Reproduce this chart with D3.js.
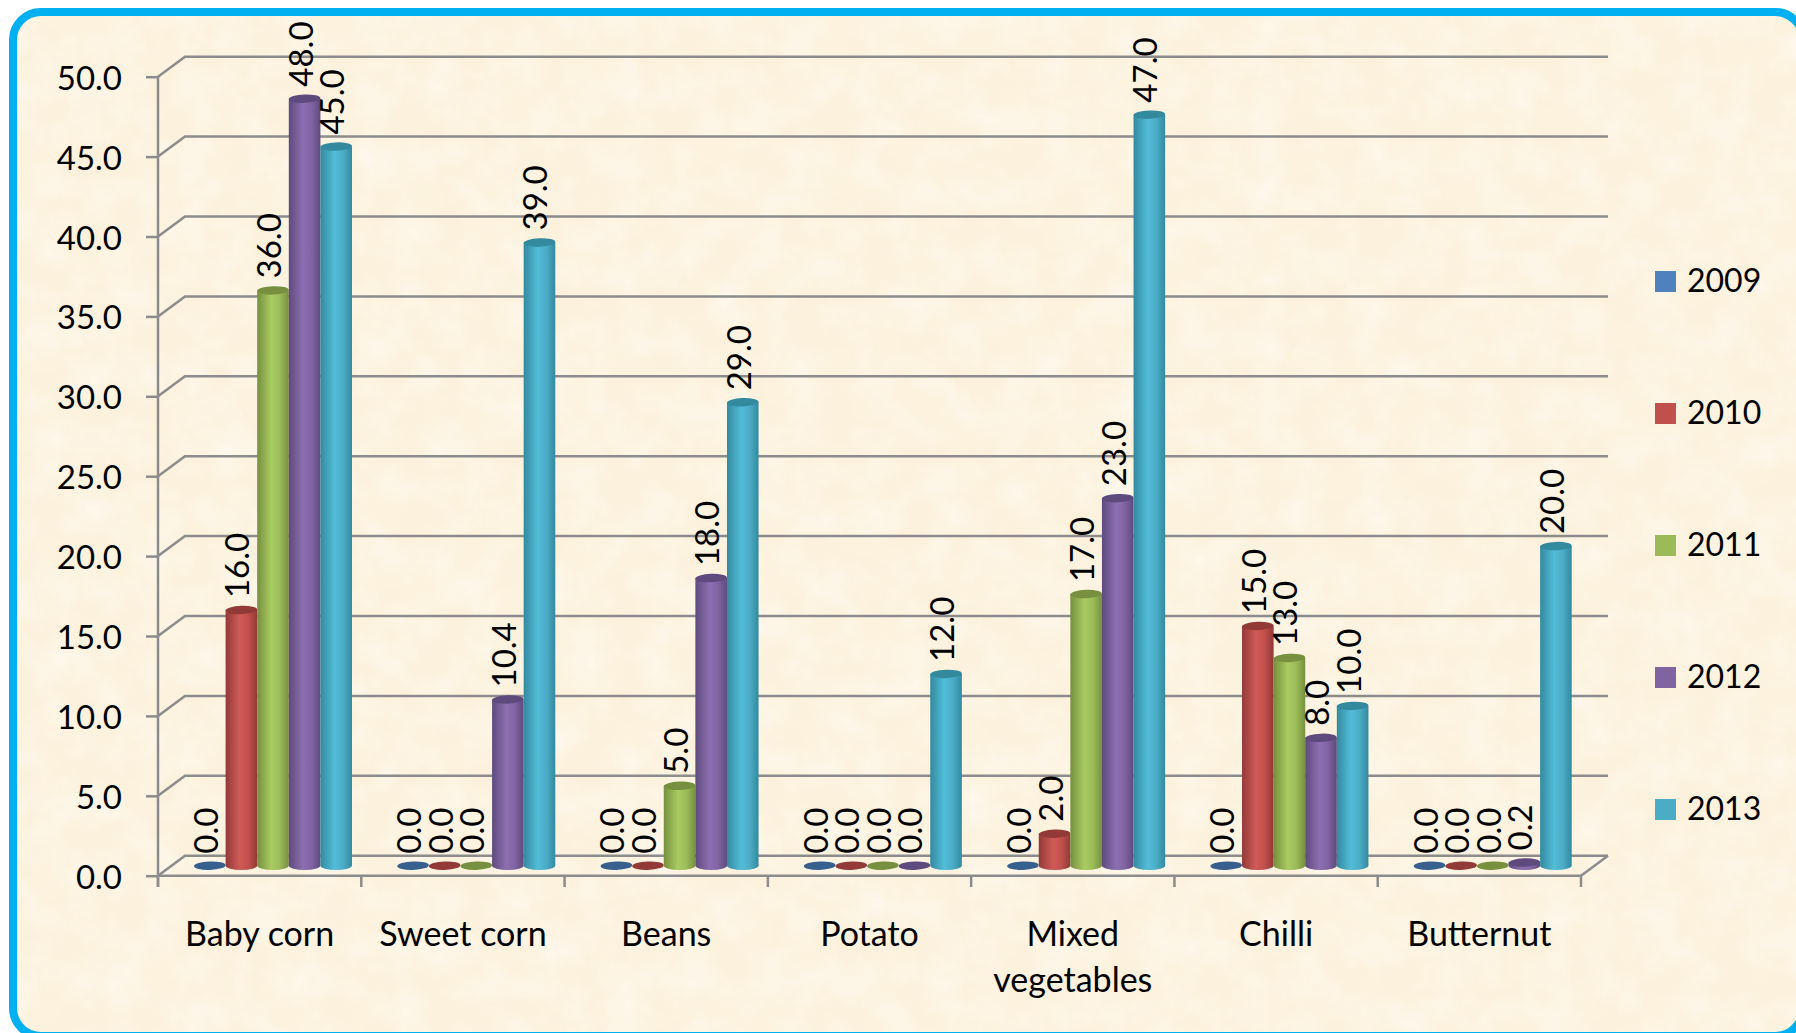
<!DOCTYPE html>
<html>
<head>
<meta charset="utf-8">
<script src="https://d3js.org/d3.v7.min.js"></script>
<style>
html, body { margin: 0; padding: 0; background: #fff; overflow: hidden; }
text { font-family: Lato, "Open Sans", sans-serif; fill: #000; }
</style>
</head>
<body>
<div id="chart"></div>
<script>
// Chart data
var categories = ['Baby corn', 'Sweet corn', 'Beans', 'Potato', 'Mixed vegetables', 'Chilli', 'Butternut'];
var years = ['2009', '2010', '2011', '2012', '2013'];
var values2009 = [0, 0, 0, 0, 0, 0, 0];
var values2010 = [16, 0, 0, 0, 2, 15, 0];
var values2011 = [36, 0, 5, 0, 17, 13, 0];
var values2012 = [48, 10.4, 18, 0, 23, 8, 0.2];
var values2013 = [45, 39, 29, 12, 47, 10, 20];
var yTicks = [0, 5, 10, 15, 20, 25, 30, 35, 40, 45, 50];
var seriesValues = [values2009, values2010, values2011, values2012, values2013];

var colors = ['#4F81BD', '#C0504D', '#9BBB59', '#8064A2', '#4BACC6'];
var darkColors = ['#37608F', '#923A38', '#76903F', '#5F4A7D', '#338A9F'];
var lightColors = ['#5B90CF', '#D05B58', '#A9CB62', '#8C6FB1', '#53BCD8'];

var width = 1796, height = 1033;
var svg = d3.select('#chart').append('svg')
    .attr('width', width)
    .attr('height', height)
    .style('display', 'block');
var defs = svg.append('defs');

// Parchment texture, one darker layer and one lighter layer
function paperFilter(id, seed, freq, matrix) {
    var filter = defs.append('filter').attr('id', id)
        .attr('x', 0).attr('y', 0).attr('width', '100%').attr('height', '100%');
    filter.append('feTurbulence')
        .attr('type', 'fractalNoise')
        .attr('baseFrequency', freq)
        .attr('numOctaves', 3)
        .attr('seed', seed);
    filter.append('feColorMatrix')
        .attr('type', 'matrix')
        .attr('values', matrix);
}
paperFilter('paperDark', 7, 0.02, '0 0 0 0 0.98  0 0 0 0 0.91  0 0 0 0 0.76  1.1 0 0 0 -0.42');
paperFilter('paperLight', 23, 0.028, '0 0 0 0 1  0 0 0 0 0.97  0 0 0 0 0.92  1.2 0 0 0 -0.48');

// Cylinder gradients
years.forEach(function(year, i) {
    var grad = defs.append('linearGradient').attr('id', 'cyl' + year);
    grad.append('stop').attr('offset', '0%').attr('stop-color', darkColors[i]);
    grad.append('stop').attr('offset', '45%').attr('stop-color', lightColors[i]);
    grad.append('stop').attr('offset', '72%').attr('stop-color', colors[i]);
    grad.append('stop').attr('offset', '100%').attr('stop-color', darkColors[i]);
});

// Rounded frame
defs.append('clipPath').attr('id', 'frameClip').append('rect')
    .attr('x', 13).attr('y', 12).attr('width', 1790).attr('height', 1024).attr('rx', 28);
svg.append('rect')
    .attr('x', 13).attr('y', 12).attr('width', 1790).attr('height', 1024).attr('rx', 28)
    .attr('fill', '#FCF1DC');
var paper = svg.append('g').attr('clip-path', 'url(#frameClip)');
paper.append('rect')
    .attr('x', 13).attr('y', 12).attr('width', 1790).attr('height', 1024)
    .attr('filter', 'url(#paperDark)');
paper.append('rect')
    .attr('x', 13).attr('y', 12).attr('width', 1790).attr('height', 1024)
    .attr('filter', 'url(#paperLight)');
svg.append('rect')
    .attr('x', 13).attr('y', 12).attr('width', 1790).attr('height', 1024).attr('rx', 28)
    .attr('fill', 'none')
    .attr('stroke', '#00B0F0')
    .attr('stroke-width', 8);

// Scales
var y = d3.scaleLinear().domain([0, 50]).range([875.7, 76.7]);
var x = d3.scaleBand().domain(categories).range([158, 1581]);
var xBar = d3.scaleBand().domain(years).range([36, 194]);

var depthX = 27, depthY = 20;
var gridColor = '#8C8C8C';
var barLift = 10;

// Back wall grid lines
var grid = svg.append('g');
grid.selectAll('.wall')
    .data(yTicks)
    .join('path')
    .attr('fill', 'none')
    .attr('stroke', gridColor)
    .attr('stroke-width', 2.5)
    .attr('d', function(d) {
        var p = d3.path();
        p.moveTo(x.range()[0], y(d));
        p.lineTo(x.range()[0] + depthX, y(d) - depthY);
        p.lineTo(x.range()[1] + depthX, y(d) - depthY);
        return p.toString();
    });

// Floor edge on the right
grid.append('path')
    .attr('fill', 'none')
    .attr('stroke', gridColor)
    .attr('stroke-width', 2.5)
    .attr('d', function() {
        var p = d3.path();
        p.moveTo(x.range()[1], y(0));
        p.lineTo(x.range()[1] + depthX, y(0) - depthY);
        return p.toString();
    });

// Y axis
var yAxis = svg.append('g')
    .attr('transform', 'translate(' + x.range()[0] + ',0)')
    .call(d3.axisLeft(y).tickValues(yTicks).tickSize(12).tickPadding(24).tickFormat(d3.format('.1f')));
yAxis.select('.domain').attr('stroke', gridColor).attr('stroke-width', 2.5).attr('d', 'M0,' + y(50) + 'V887');
yAxis.selectAll('.tick line').attr('stroke', gridColor).attr('stroke-width', 2.5);
yAxis.selectAll('.tick text')
    .style('font-family', 'Lato, "Open Sans", sans-serif')
    .style('font-size', '33px')
    .attr('dy', '0.38em')
    .attr('fill', '#000');

// X axis
var xAxis = svg.append('g')
    .attr('transform', 'translate(0,' + y(0) + ')')
    .call(d3.axisBottom(x).tickSize(0).tickPadding(0));
xAxis.select('.domain').remove();
xAxis.selectAll('.tick text')
    .style('font-family', 'Lato, "Open Sans", sans-serif')
    .style('font-size', '34px')
    .attr('fill', '#000')
    .attr('dy', null)
    .attr('y', 70)
    .each(function(d) {
        var words = d.split(' ');
        if (d !== 'Mixed vegetables') return;
        var t = d3.select(this).text(null);
        words.forEach(function(w, i) {
            t.append('tspan').attr('x', 0).attr('y', 70 + i * 46).text(w);
        });
    });

// Front floor line and category ticks
svg.append('line')
    .attr('x1', x.range()[0]).attr('x2', x.range()[1])
    .attr('y1', y(0)).attr('y2', y(0))
    .attr('stroke', gridColor).attr('stroke-width', 2.5);
svg.selectAll('.catTick')
    .data(categories.concat(['end']))
    .join('line')
    .attr('x1', function(d, i) { return x.range()[0] + i * x.step(); })
    .attr('x2', function(d, i) { return x.range()[0] + i * x.step(); })
    .attr('y1', y(0))
    .attr('y2', 887)
    .attr('stroke', gridColor).attr('stroke-width', 2.5);

// Cylinders
var ry = 4.2;
var bars = [];
categories.forEach(function(cat, c) {
    years.forEach(function(year, s) {
        bars.push({ cat: cat, year: year, s: s, value: seriesValues[s][c] });
    });
});

var barG = svg.selectAll('.bar')
    .data(bars)
    .join('g')
    .attr('class', 'bar');

barG.append('path')
    .attr('fill', function(d) { return 'url(#cyl' + d.year + ')'; })
    .attr('d', function(d) {
        var x0 = x(d.cat) + xBar(d.year);
        var rx = xBar.bandwidth() / 2;
        var base = y(0) - barLift;
        var top = y(d.value) - barLift;
        if (d.value === 0) return '';
        return 'M' + x0 + ',' + top + 'L' + x0 + ',' + base +
            'A' + rx + ',' + ry + ' 0 0 0 ' + (x0 + 2 * rx) + ',' + base +
            'L' + (x0 + 2 * rx) + ',' + top + 'Z';
    });

barG.append('ellipse')
    .attr('cx', function(d) { return x(d.cat) + xBar(d.year) + xBar.bandwidth() / 2; })
    .attr('cy', function(d) { return y(d.value) - barLift; })
    .attr('rx', xBar.bandwidth() / 2)
    .attr('ry', ry)
    .attr('fill', function(d) { return darkColors[d.s]; })
    .attr('transform', function(d) {
        return 'rotate(-2 ' + (x(d.cat) + xBar(d.year) + xBar.bandwidth() / 2) + ' ' + (y(d.value) - barLift) + ')';
    });

// Value labels
svg.selectAll('.valueLabel')
    .data(bars)
    .join('text')
    .attr('class', 'valueLabel')
    .attr('transform', function(d) {
        var cx = x(d.cat) + xBar(d.year) + xBar.bandwidth() / 2;
        return 'translate(' + (cx + 8) + ',' + (y(d.value) - barLift - 12) + ') rotate(-90)';
    })
    .style('font-size', '33px')
    .text(function(d) { return d.value.toFixed(1); });

// Legend
var legendY = d3.scalePoint().domain(years).range([271, 799]);
var legend = svg.selectAll('.legendItem')
    .data(years)
    .join('g')
    .attr('class', 'legendItem')
    .attr('transform', function(d) { return 'translate(1655,' + legendY(d) + ')'; });
legend.append('rect')
    .attr('width', 21)
    .attr('height', 21)
    .attr('fill', function(d, i) { return colors[i]; });
legend.append('text')
    .attr('x', 32)
    .attr('y', 21)
    .style('font-size', '32px')
    .text(function(d) { return d; });
</script>
</body>
</html>
